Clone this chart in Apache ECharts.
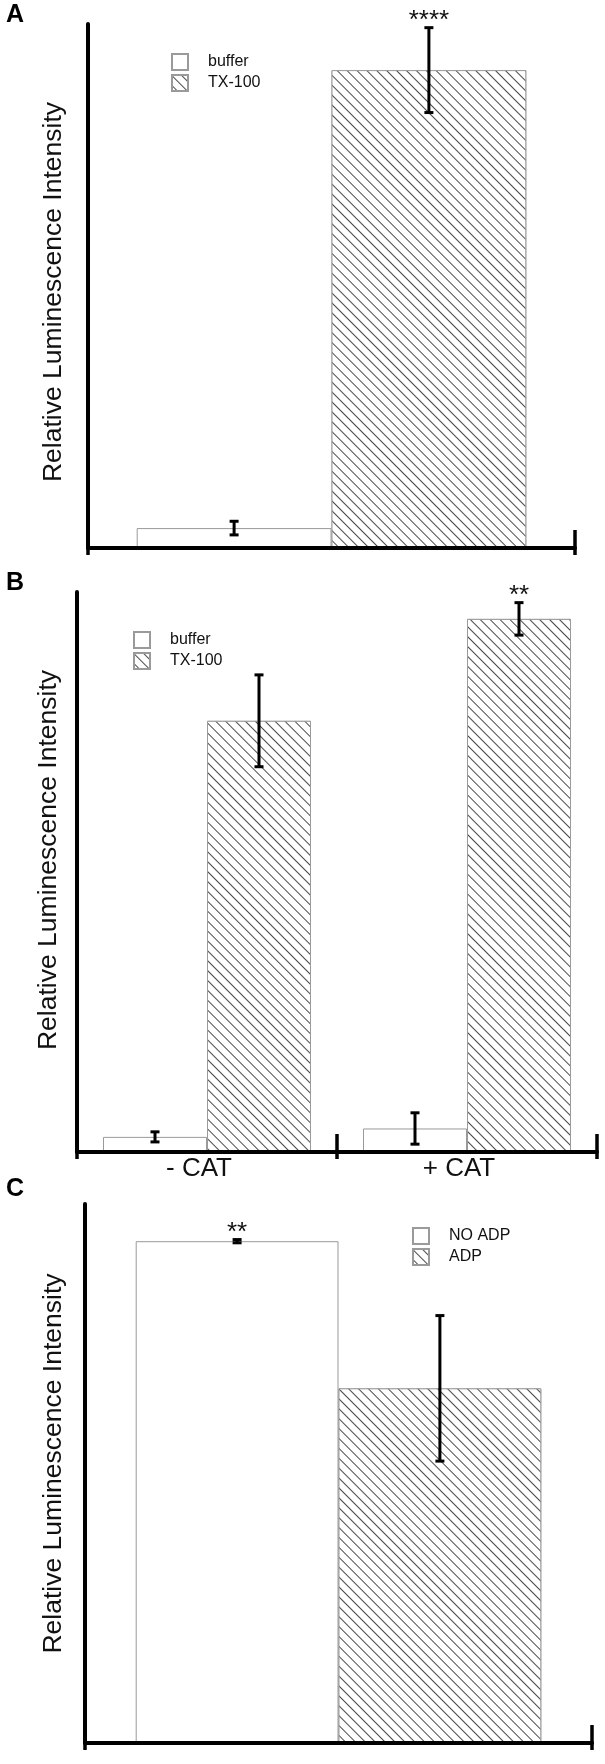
<!DOCTYPE html>
<html><head><meta charset="utf-8">
<script src="https://cdn.jsdelivr.net/npm/echarts@6/dist/echarts.min.js"></script>
<style>html,body{margin:0;padding:0;background:#fff}#chart{width:605px;height:1764px}</style>
</head><body><div id="chart"></div>
<script>
// ---------- Panel A ----------
const catsA = [''];
const bufferA = [3.8];
const bufferErrA = [1.3];
const txA = [91.2];
const txErrA = [8.1];
const marksTxA = ['****'];
// ---------- Panel B ----------
const catsB = ['- CAT', '+ CAT'];
const bufferB = [2.7, 4.2];
const bufferErrB = [0.9, 2.8];
const txB = [77.0, 95.2];
const txErrB = [8.2, 2.9];
const marksTxB = ['', '**'];
// ---------- Panel C ----------
const catsC = [''];
const noAdpC = [93.1];
const noAdpErrC = [0.3];
const adpC = [65.8];
const adpErrC = [13.5];
const marksNoAdpC = ['**'];
// ---------- Labels ----------
const panelLetters = ['A', 'B', 'C'];
const yName = 'Relative Luminescence Intensity';
const legendAB = ['buffer', 'TX-100'];
const legendC = ['NO ADP', 'ADP'];

const FONT = '"Liberation Sans", Arial, sans-serif';
const TXT = '#111';

const plainStyle = { color: '#fff', borderColor: '#9a9a9a', borderWidth: 1 };
const hatchStyle = {
  color: '#fff', borderColor: '#9a9a9a', borderWidth: 1,
  decal: { symbol: 'rect', symbolSize: 1, color: '#4a4a4a', backgroundColor: '#fff',
           dashArrayX: [1, 0], dashArrayY: [1, 5.4], rotation: Math.PI / 4 }
};

const grids = [
  { left: 88, top: 24, width: 487, height: 524 },
  { left: 77, top: 592, width: 520, height: 560 },
  { left: 85, top: 1204, width: 507, height: 539 }
];
const cats = [catsA, catsB, catsC];
const nameGaps = [21, 15, 18];
const namePads = [[0, 12, 0, 0], [0, 0, 0, 24], [0, 0, 0, 20]];

const xAxes = [], yAxes = [];
grids.forEach((g, gi) => {
  xAxes.push({
    type: 'category', gridIndex: gi, data: cats[gi], position: 'bottom',
    axisLine: { show: true, lineStyle: { color: '#000', width: 4 } },
    axisTick: { show: true, inside: true, length: 18, lineStyle: { color: '#000', width: 3.5 } },
    axisLabel: { show: gi === 1, fontSize: 26, color: TXT, fontFamily: FONT, margin: 4, padding: [0, 16, 0, 0] },
    splitLine: { show: false }, z: 3
  });
  xAxes.push({
    type: 'category', gridIndex: gi, data: cats[gi], position: 'bottom', offset: 0,
    axisLine: { show: false },
    axisTick: { show: true, inside: false, length: 7, lineStyle: { color: '#000', width: 3.5 } },
    axisLabel: { show: false }, splitLine: { show: false }, z: 3
  });
  yAxes.push({
    type: 'value', gridIndex: gi, min: 0, max: 100,
    name: yName, nameLocation: 'middle', nameGap: nameGaps[gi],
    nameTextStyle: { fontSize: 26.5, color: TXT, fontFamily: FONT, padding: namePads[gi] },
    axisLine: { show: true, lineStyle: { color: '#000', width: 4 } },
    axisTick: { show: false }, axisLabel: { show: false }, splitLine: { show: false }, z: 3
  });
});

function barSeries(name, gi, data, style) {
  return {
    type: 'bar', name: name, xAxisIndex: gi * 2, yAxisIndex: gi, data: data,
    barGap: '0%', barCategoryGap: '20%', itemStyle: style, silent: true,
    emphasis: { disabled: true }
  };
}

function errSeries(gi, sIdx, nS, means, errs, marks) {
  return {
    type: 'custom', xAxisIndex: gi * 2, yAxisIndex: gi, z: 5, silent: true,
    data: means.map((m, i) => [i, m, errs[i]]),
    renderItem: function (params, api) {
      const i = api.value(0), m = api.value(1), e = api.value(2);
      const band = api.size([1, 0])[0];
      const off = (sIdx - (nS - 1) / 2) * band * 0.4;
      const pt = api.coord([i, m + e]), pb = api.coord([i, m - e]);
      const x = pt[0] + off;
      const cap = 4.5;
      const ls = { stroke: '#000', lineWidth: 3 };
      const children = [
        { type: 'line', shape: { x1: x, y1: pt[1], x2: x, y2: pb[1] }, style: ls },
        { type: 'line', shape: { x1: x - cap, y1: pt[1], x2: x + cap, y2: pt[1] }, style: ls },
        { type: 'line', shape: { x1: x - cap, y1: pb[1], x2: x + cap, y2: pb[1] }, style: ls }
      ];
      const mk = marks ? marks[params.dataIndex] : '';
      if (mk) {
        children.push({ type: 'text', x: x, y: pt[1] + 6,
          style: { text: mk, fill: TXT, fontSize: 26, fontFamily: FONT, align: 'center', verticalAlign: 'bottom' } });
      }
      return { type: 'group', children: children };
    }
  };
}

const legendBase = {
  orient: 'vertical', itemWidth: 16, itemHeight: 16, itemGap: 3, icon: 'rect', padding: 0,
  selectedMode: false,
  textStyle: { fontSize: 16, color: TXT, fontFamily: FONT, padding: [0, 0, 0, 15] }
};

const option = {
  animation: false,
  backgroundColor: '#fff',
  title: panelLetters.map((t, i) => ({
    text: t, left: 6, top: [3, 571, 1177][i], padding: 0,
    textStyle: { fontSize: 25, fontWeight: 'bold', color: '#000', fontFamily: FONT }
  })),
  legend: [
    Object.assign({}, legendBase, { data: legendAB, left: 171, top: 53 }),
    Object.assign({}, legendBase, { data: legendAB, left: 133, top: 631 }),
    Object.assign({}, legendBase, { data: legendC, left: 412, top: 1227 })
  ],
  grid: grids,
  xAxis: xAxes,
  yAxis: yAxes,
  series: [
    barSeries('buffer', 0, bufferA, plainStyle),
    barSeries('TX-100', 0, txA, hatchStyle),
    barSeries('buffer', 1, bufferB, plainStyle),
    barSeries('TX-100', 1, txB, hatchStyle),
    barSeries('NO ADP', 2, noAdpC, plainStyle),
    barSeries('ADP', 2, adpC, hatchStyle),
    errSeries(0, 0, 2, bufferA, bufferErrA, null),
    errSeries(0, 1, 2, txA, txErrA, marksTxA),
    errSeries(1, 0, 2, bufferB, bufferErrB, null),
    errSeries(1, 1, 2, txB, txErrB, marksTxB),
    errSeries(2, 0, 2, noAdpC, noAdpErrC, marksNoAdpC),
    errSeries(2, 1, 2, adpC, adpErrC, null)
  ]
};

const chart = echarts.init(document.getElementById('chart'), null, { renderer: 'canvas' });
chart.setOption(option);
</script>
</body></html>
